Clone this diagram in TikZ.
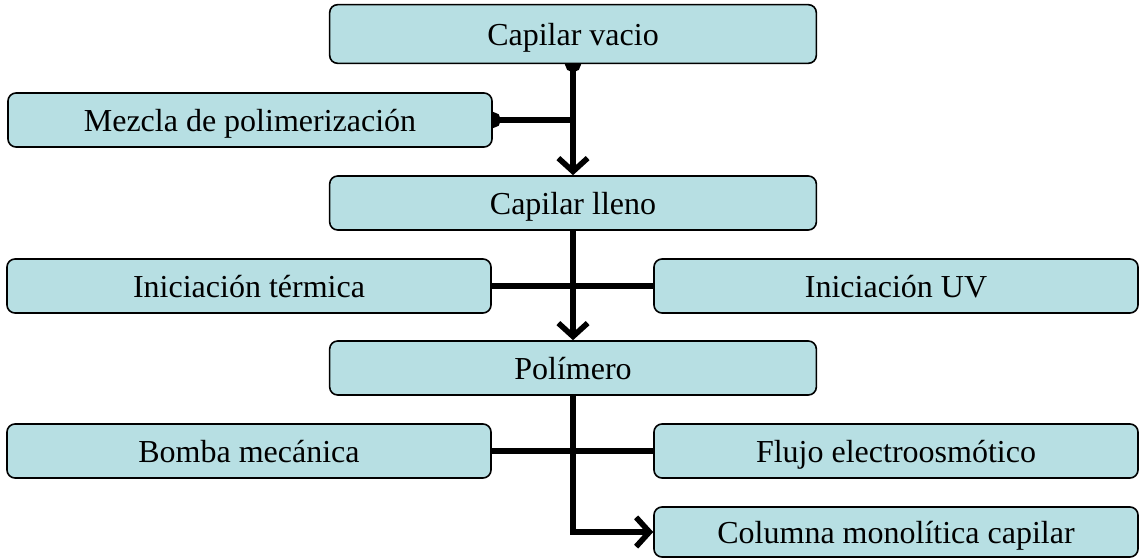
\documentclass[tikz,border=0pt]{standalone}
\usepackage{fontspec}
\setmainfont{Liberation Serif}
\usetikzlibrary{arrows.meta,backgrounds}
\definecolor{boxfill}{RGB}{183,223,227}
\tikzset{
  stage/.style={draw, line width=1.2pt, rounded corners=6pt, fill=boxfill, minimum width=365pt, minimum height=40.5pt, text height=19pt, text depth=2pt, font=\fontsize{24}{28}\selectfont},
  side/.style={stage, minimum width=363pt},
  flow/.style={line width=4.2pt, -{Straight Barb[length=10pt,width=22pt]}},
  crossbar/.style={line width=4.2pt},
  dot/.style={line width=4.2pt, {Circle[length=12pt]}-, shorten <=-6pt}
}
\begin{document}
\begin{tikzpicture}[x=0.75pt, y=-0.75pt]
\def\midx{573}
\def\lftx{249}
\def\rgtx{896}
\useasboundingbox (0,0) rectangle (1143,559);
\node[stage, minimum height=44pt] (vacio) at (\midx, 34) {Capilar vacio};
\node[side] (mezcla) at (\lftx + 1, 120) {Mezcla de polimerización};
\node[stage] (lleno) at (\midx, 203) {Capilar lleno};
\node[side] (termica) at (\lftx, 286) {Iniciación térmica};
\node[side] (uv) at (\rgtx, 286) {Iniciación UV};
\node[stage] (polimero) at (\midx, 368) {Polímero};
\node[side] (bomba) at (\lftx, 451) {Bomba mecánica};
\node[side] (flujo) at (\rgtx, 451) {Flujo electroosmótico};
\node[side, minimum height=37.5pt] (columna) at (\rgtx, 532) {Columna monolítica capilar};

% edges
\begin{scope}[on background layer]
\draw[flow, {Circle[length=12pt]}-{Straight Barb[length=10pt,width=22pt]}, shorten <=-6pt] (vacio.south) -- (lleno.north); % vacio to lleno
\draw[dot] (mezcla.east) -- (mezcla.east -| vacio.south); % mezcla joins
\draw[flow] (lleno.south) -- (polimero.north); % lleno to polimero
\draw[crossbar] (termica.east) -- (uv.west); % termica -- UV
\draw[crossbar] (bomba.east) -- (flujo.west); % bomba -- flujo
\draw[flow] (polimero.south) |- (columna.west); % polimero to columna
\end{scope}
\end{tikzpicture}
\end{document}
